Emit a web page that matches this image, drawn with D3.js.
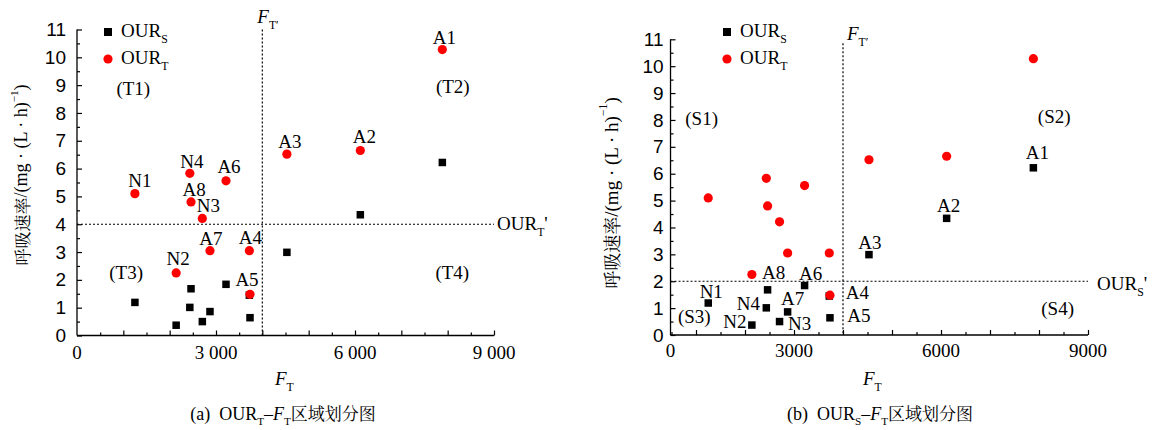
<!DOCTYPE html>
<html>
<head>
<meta charset="utf-8">
<script src="https://cdn.jsdelivr.net/npm/d3@7"></script>
<style>
  body { margin: 0; background: #fff; }
  svg { display: block; font-family: "Liberation Serif", "Times New Roman", serif; }
  .cjk { font-family: "Noto Serif CJK SC", "Noto Sans CJK SC", sans-serif; }
</style>
</head>
<body>
<svg id="chart" width="1153" height="430"></svg>
<script>
// sample names
const samples = ["N1", "N2", "N3", "N4", "A1", "A2", "A3", "A4", "A5", "A6", "A7", "A8"];
// F_T of each sample
const ftValues = [1250, 2140, 2705, 2435, 7885, 6115, 4530, 3720, 3734, 3216, 2870, 2461];
// respiration rates, mg/(L h)
const ourT = [5.1, 2.25, 4.21, 5.83, 10.28, 6.65, 6.52, 3.05, 1.48, 5.56, 3.05, 4.8];
const ourS = [1.19, 0.37, 0.5, 1.01, 6.22, 4.34, 2.99, 1.45, 0.64, 1.84, 0.86, 1.68];

// thresholds
const ftThreshold = 4000;
const ourTThreshold = 4;
const ourSThreshold = 2;

// tick labels
const xTickValues = [0, 3000, 6000, 9000];
const xTickLabelsA = ["0", "3 000", "6 000", "9 000"];
const xTickLabelsB = ["0", "3000", "6000", "9000"];
const yTickValues = d3.range(0, 12, 1);

// region labels (data units)
const zonesA = [["(T1)", 1215, 8.65], ["(T2)", 8110, 8.73], ["(T3)", 1060, 2.02], ["(T4)", 8100, 2.03]];
const zonesB = [["(S1)", 1115, 7.81], ["(S2)", 8310, 7.87], ["(S3)", 965, 0.43], ["(S4)", 8380, 0.74]];

const svg = d3.select("#chart");

// label offsets in px (text center, baseline) from the labelled mark
const offsetsA = {N1: [5, -7], N2: [2, -8], N3: [6, -6], N4: [2, -5], A1: [2, -6], A2: [4, -8],
                  A3: [3, -6], A4: [1, -7], A5: [-3, -8], A6: [3, -8], A7: [1, -6], A8: [3, -6]};
const offsetsB = {N1: [3, -5], N2: [-17, 3], N3: [20, 8], N4: [-18, 2], A1: [4, -9], A2: [2, -6],
                  A3: [1, -6], A4: [28, 3], A5: [29, 4], A6: [6, -6], A7: [5, -7], A8: [6, -11]};

// writes mixed text: s = subscript, p = superscript, i = italic, c = chinese
function rich(sel, parts, size, cjkSize) {
    let shift = 0;
    parts.forEach(([t, k]) => {
        const ts = sel.append("tspan").text(t);
        let target = 0;
        if (k.includes("s")) { target = size * 0.3; ts.attr("font-size", size * 0.62); }
        if (k.includes("p")) { target = -size * 0.4; ts.attr("font-size", size * 0.62); }
        if (k.includes("i")) ts.attr("font-style", "italic");
        if (k.includes("c")) ts.attr("class", "cjk").attr("font-size", cjkSize || size);
        if (target !== shift) { ts.attr("dy", target - shift); shift = target; }
    });
}

const panels = [
    { xRange: [77, 494], yRange: [335.5, 29.5], xStart: 0, vTop: 11, tickLabels: xTickLabelsA,
      yPad: 11, labelBase: 359, values: ourT, thr: ourTThreshold, thrSub: "T", offsets: offsetsA,
      zones: zonesA, legX: 108, ftLab: [-5, 23], thrLab: [3, 6], yTitle: [21, 175], yTitleFs: 18,
      xTitleX: 275, caption: ["(a)\u2002OUR", "T"], capX: 283 },
    { xRange: [647, 1088], yRange: [335, 39.3], xStart: 480, vTop: 10.85, tickLabels: xTickLabelsB,
      yPad: 7, labelBase: 357, values: ourS, thr: ourSThreshold, thrSub: "S", offsets: offsetsB,
      zones: zonesB, legX: 727, ftLab: [4, 40], thrLab: [9, 9], yTitle: [611, 193], yTitleFs: 19,
      xTitleX: 863, caption: ["(b)\u2002OUR", "S"], capX: 880 }
];

panels.forEach(drawPanel);

function drawPanel(p) {
    const g = svg.append("g");
    const x = d3.scaleLinear().domain([0, 9000]).range(p.xRange);
    const y = d3.scaleLinear().domain([0, 11]).range(p.yRange);
    const x0 = x(p.xStart);
    const y0 = y(0);

    // x ticks, inward
    const minorX = d3.range(500, 9001, 1000);
    const majorX = d3.range(1000, 9001, 1000);
    g.append("g").attr("transform", `translate(0,${y0})`)
        .call(d3.axisBottom(x).tickValues(minorX).tickSizeInner(-3).tickSizeOuter(0).tickFormat(""));
    g.append("g").attr("transform", `translate(0,${y0})`)
        .call(d3.axisBottom(x).tickValues(majorX).tickSizeInner(-5).tickSizeOuter(0).tickFormat(""));
    // y ticks, inward
    g.append("g").attr("transform", `translate(${x0},0)`)
        .call(d3.axisLeft(y).tickValues(d3.range(0.5, 11, 1)).tickSizeInner(-3).tickSizeOuter(0).tickFormat(""));
    g.append("g").attr("transform", `translate(${x0},0)`)
        .call(d3.axisLeft(y).tickValues(yTickValues).tickSizeInner(-5).tickSizeOuter(0)
            .tickPadding(p.yPad).tickFormat(d3.format("d")));
    g.selectAll(".domain").remove();
    g.selectAll(".tick line").attr("stroke", "#000").attr("stroke-width", 1.2);
    g.selectAll(".tick text").attr("font-size", 19).attr("font-family", null).attr("fill", "#000");

    // x labels
    g.selectAll(".xlab")
        .data(xTickValues)
        .enter()
        .append("text")
        .attr("x", (d, i) => i === 0 ? x0 : x(d))
        .attr("y", p.labelBase)
        .attr("text-anchor", "middle")
        .attr("font-size", 19)
        .text((d, i) => p.tickLabels[i]);

    // axis lines
    g.append("line").attr("x1", x0).attr("x2", x(9000)).attr("y1", y0).attr("y2", y0)
        .attr("stroke", "#000").attr("stroke-width", 1.3);
    g.append("line").attr("x1", x0).attr("x2", x0).attr("y1", y0).attr("y2", y(11))
        .attr("stroke", "#000").attr("stroke-width", 1.3);

    // threshold lines
    g.append("line").attr("x1", x(ftThreshold)).attr("x2", x(ftThreshold))
        .attr("y1", y(p.vTop)).attr("y2", y0)
        .attr("stroke", "#000").attr("stroke-width", 1.2).attr("stroke-dasharray", "2,2");
    g.append("line").attr("x1", x0).attr("x2", x(9000))
        .attr("y1", y(p.thr)).attr("y2", y(p.thr))
        .attr("stroke", "#000").attr("stroke-width", 1.2).attr("stroke-dasharray", "2,2");

    const ftLab = g.append("text")
        .attr("x", x(ftThreshold) + p.ftLab[0]).attr("y", p.ftLab[1]).attr("font-size", 19);
    rich(ftLab, [["F", "i"], ["T\u2032", "s"]], 19);
    const thrLab = g.append("text")
        .attr("x", x(9000) + p.thrLab[0]).attr("y", y(p.thr) + p.thrLab[1]).attr("font-size", 19);
    rich(thrLab, [["OUR", ""], [p.thrSub, "s"], ["'", ""]], 19);

    // region labels
    g.selectAll(".zone")
        .data(p.zones)
        .enter()
        .append("text")
        .attr("x", d => x(d[1]))
        .attr("y", d => y(d[2]))
        .attr("text-anchor", "middle")
        .attr("font-size", 19)
        .text(d => d[0]);

    // squares (OUR_S) then circles (OUR_T) on top
    const sq = 7.5;
    g.selectAll(".sq")
        .data(samples)
        .enter()
        .append("rect")
        .attr("x", (d, i) => x(ftValues[i]) - sq / 2)
        .attr("y", (d, i) => y(ourS[i]) - sq / 2)
        .attr("width", sq).attr("height", sq)
        .attr("fill", "#000");
    g.selectAll(".dot")
        .data(samples)
        .enter()
        .append("circle")
        .attr("cx", (d, i) => x(ftValues[i]))
        .attr("cy", (d, i) => y(ourT[i]))
        .attr("r", 4.6)
        .attr("fill", "#ff0000");

    // sample labels
    g.selectAll(".lab")
        .data(samples)
        .enter()
        .append("text")
        .attr("x", (d, i) => x(ftValues[i]) + p.offsets[d][0])
        .attr("y", (d, i) => y(p.values[i]) + p.offsets[d][1])
        .attr("text-anchor", "middle")
        .attr("font-size", 19)
        .text(d => d);

    // legend
    g.append("rect").attr("x", p.legX - 4).attr("y", 28).attr("width", 8).attr("height", 8).attr("fill", "#000");
    g.append("circle").attr("cx", p.legX).attr("cy", 59).attr("r", 4.6).attr("fill", "#ff0000");
    const l1 = g.append("text").attr("x", p.legX + 13).attr("y", 37).attr("font-size", 19);
    rich(l1, [["OUR", ""], ["S", "s"]], 19);
    const l2 = g.append("text").attr("x", p.legX + 13).attr("y", 64).attr("font-size", 19);
    rich(l2, [["OUR", ""], ["T", "s"]], 19);

    // axis titles
    const yt = g.append("text")
        .attr("transform", `translate(${p.yTitle[0]},${p.yTitle[1]}) rotate(-90)`)
        .attr("text-anchor", "middle")
        .attr("dominant-baseline", "central")
        .attr("font-size", p.yTitleFs);
    rich(yt, [["呼吸速率", "c"], ["/(mg · (L · h)", ""], ["−1", "p"], [")", ""]], p.yTitleFs, p.yTitleFs - 1);
    const xt = g.append("text").attr("x", p.xTitleX).attr("y", 385).attr("font-size", 19);
    rich(xt, [["F", "i"], ["T", "s"]], 19);

    // caption
    const cap = g.append("text").attr("x", p.capX).attr("y", 420)
        .attr("text-anchor", "middle").attr("font-size", 18);
    rich(cap, [[p.caption[0], ""], [p.caption[1], "s"], ["–", ""], ["F", "i"], ["T", "s"], ["区域划分图", "c"]], 18, 17);
}
</script>
</body>
</html>
